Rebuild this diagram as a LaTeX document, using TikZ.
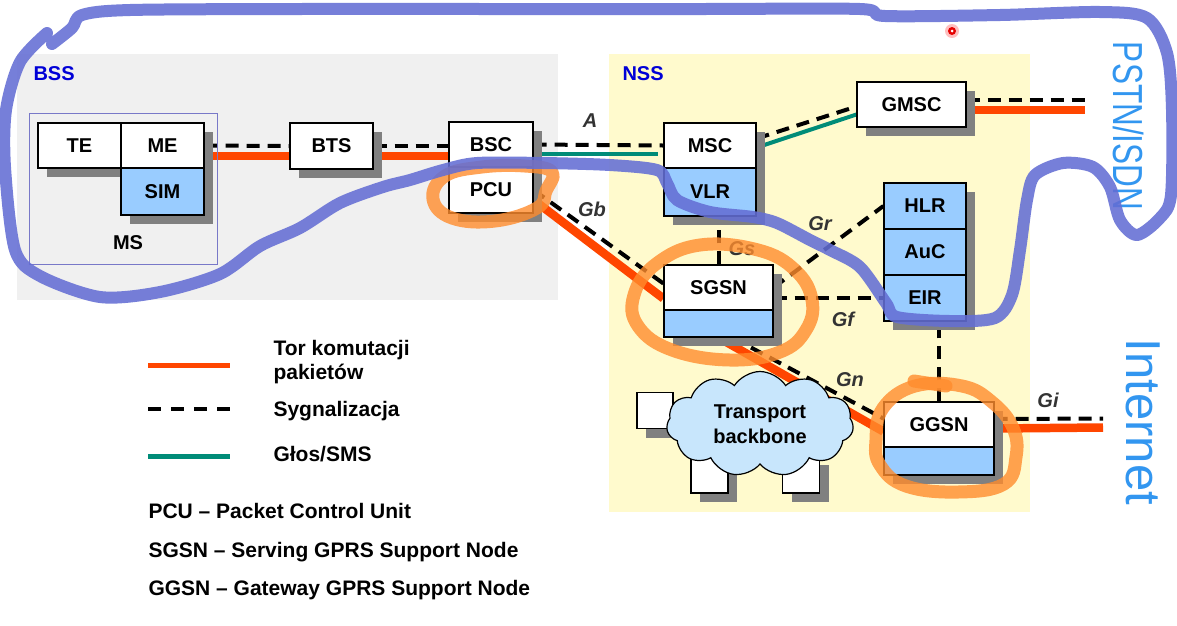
\documentclass[tikz,border=0pt]{standalone}
\usepackage{fontspec}
\setmainfont{Liberation Sans}
\usetikzlibrary{calc,shapes.symbols,shadows}
\pgfdeclarelayer{back}
\pgfdeclarelayer{lines}
\pgfdeclarelayer{marker}
\pgfsetlayers{back,lines,main,marker}
\definecolor{bssgray}{RGB}{240,240,240}
\definecolor{nssyellow}{RGB}{255,250,205}
\definecolor{simblue}{RGB}{153,204,255}
\definecolor{pktorange}{RGB}{255,70,0}
\definecolor{voiceteal}{RGB}{0,140,120}
\definecolor{areablue}{RGB}{0,0,215}
\definecolor{extblue}{RGB}{50,150,240}
\definecolor{msframe}{RGB}{120,120,200}
\definecolor{shadowgray}{RGB}{128,128,128}
\definecolor{cloudblue}{RGB}{200,230,252}
\definecolor{penblue}{RGB}{100,110,212}
\definecolor{penorange}{RGB}{255,140,45}

\begin{document}
\begin{tikzpicture}[x=1pt, y=-1pt,
  box/.style={draw, line width=1.2pt, fill=white, inner sep=0pt,
    font=\bfseries\fontsize{20}{24}\selectfont,
    drop shadow={shadow xshift=9pt, shadow yshift=-9pt, fill=shadowgray, opacity=1}},
  bluebox/.style={box, fill=simblue},
  pkt/.style={draw=pktorange, line width=8.5pt},
  sig/.style={draw=black, line width=4pt, dash pattern=on 13pt off 8pt},
  voice/.style={draw=voiceteal, line width=4pt},
  iface/.style={font=\bfseries\itshape\fontsize{20}{24}\selectfont, text=black!80},
  area/.style={font=\bfseries\fontsize{20}{24}\selectfont, text=areablue, anchor=base west},
  legend/.style={font=\bfseries\fontsize{21}{25}\selectfont, anchor=base west},
  ext/.style={font=\fontsize{42}{48}\selectfont, text=extblue, rotate=-90, anchor=base},
  penb/.style={draw=penblue, opacity=0.88, line width=12pt, line cap=round, line join=round},
  peno/.style={draw=penorange, opacity=0.8, line width=13pt, line cap=round, line join=round}
]
\useasboundingbox (0,0) rectangle (1177,625);
\begin{pgfonlayer}{back}
  \fill[white] (0,0) rectangle (1177,625);
  \fill[bssgray] (17,54) rectangle (558,300);
  \fill[nssyellow] (609,54) rectangle (1030,512);
\end{pgfonlayer}

\node[area] (bss) at (30,80) {BSS};
\node[area] (nss) at (619,80) {NSS};
\draw[msframe, line width=1pt] (29,113) rectangle (217,264);
\node[font=\bfseries\fontsize{20}{24}\selectfont] (ms) at (128,243) {MS};

\node[box, minimum width=83pt, minimum height=45pt] (te) at (79.5,145.5) {TE};
\node[box, minimum width=83pt, minimum height=45pt] (me) at (162.5,145.5) {ME};
\node[bluebox, minimum width=83pt, minimum height=47pt] (sim) at (162.5,191.5) {SIM};
\node[box, minimum width=83pt, minimum height=46pt] (bts) at (331.5,146) {BTS};
\node[box, minimum width=84pt, minimum height=45pt] (bsc) at (491,144.5) {BSC};
\node[box, minimum width=84pt, minimum height=46pt] (pcu) at (491,190) {PCU};
\node[box, minimum width=92pt, minimum height=45pt] (msc) at (710,145.5) {MSC};
\node[bluebox, minimum width=92pt, minimum height=48pt] (vlr) at (710,192) {VLR};
\node[box, minimum width=109pt, minimum height=45pt] (gmsc) at (911.5,104.5) {GMSC};
\node[bluebox, minimum width=82pt, minimum height=46pt] (hlr) at (925,206) {HLR};
\node[bluebox, minimum width=82pt, minimum height=46pt] (auc) at (925,252) {AuC};
\node[bluebox, minimum width=82pt, minimum height=46pt] (eir) at (925,298) {EIR};
\node[box, minimum width=109pt, minimum height=45pt] (sgsn) at (718.5,287.5) {SGSN};
\node[bluebox, minimum width=109pt, minimum height=27pt] (sgsnb) at (718.5,323.5) {};
\node[box, minimum width=110pt, minimum height=45pt] (ggsn) at (939,424.5) {GGSN};
\node[bluebox, minimum width=110pt, minimum height=28pt] (ggsnb) at (939,461) {};

\node[box, minimum size=36pt] (t1) at (655,410.5) {};
\node[box, minimum size=37pt] (t2) at (709.5,474.5) {};
\node[box, minimum size=37pt] (t3) at (801,474.5) {};
\node[cloud, cloud puffs=11, cloud puff arc=115, aspect=1.8, draw, line width=1.2pt,
  fill=cloudblue, minimum width=187pt, minimum height=105pt, inner sep=0pt, align=center,
  font=\bfseries\fontsize{20}{25}\selectfont] (net) at (760,424) {Transport\\backbone};

\coordinate (pstn) at (1085,105);
\coordinate (inet) at (1103,423.5);

\begin{pgfonlayer}{lines}
  \draw[sig] (me.east) -- (bts.west);
  \draw[pkt] ($(me.east)+(0,10.5)$) -- ($(bts.west)+(0,10)$);
  \draw[sig] (bts.east) -- (bts.east -| bsc.west);
  \draw[pkt] ($(bts.east)+(0,10)$) -- ($(bts.east -| bsc.west)+(0,10)$);
  \draw[sig] (bsc.east) -- (msc.west);
  \draw[voice] ($(bsc.east)+(0,9)$) -- ($(msc.west)+(-5,8)$);
  \draw[sig] ($(msc.east)+(0,-7)$) -- ($(gmsc.west)+(0,2)$);
  \draw[voice] ($(msc.east)+(0,2)$) -- ($(gmsc.west)+(0,10)$);
  \draw[sig] ($(gmsc.east)+(0,-4.5)$) -- ($(pstn)+(0,-5)$);
  \draw[pkt] ($(gmsc.east)+(0,5.5)$) -- ($(pstn)+(0,5)$);
  \draw[sig] (pcu.east) -- ($(sgsn.west)+(0,-4)$);
  \draw[pkt] ($(pcu.east)+(0,10)$) -- ($(sgsn.west)+(0,11)$);
  \draw[sig] (sgsn.north) -- (sgsn.north |- vlr.south);
  \draw[sig] (sgsn.east) -- (hlr.west);
  \draw[sig] (eir.west -| sgsn.east) -- (eir.west);
  \draw[sig] (ggsn.north) -- (ggsn.north |- eir.south);
  \draw[pkt] (sgsnb.south) -- ($(ggsn.west)+(0,7)$);
  \draw[sig] ($(sgsnb.south)+(14,0)$) -- ($(ggsn.west)+(0,-6)$);
  \draw[sig] ($(ggsn.east)+(0,-5.5)$) -- ($(inet)+(0,-5)$);
  \draw[pkt] ($(ggsn.east)+(0,4)$) -- ($(inet)+(0,4)$);
\end{pgfonlayer}

\node[iface] (a) at (590,121) {A};
\node[iface] (gb) at (592,209) {Gb};
\node[iface] (gs) at (742,249) {Gs};
\node[iface] (gr) at (820,224) {Gr};
\node[iface] (gf) at (843,319) {Gf};
\node[iface] (gn) at (850,380) {Gn};
\node[iface] (gi) at (1048,400) {Gi};

\node[ext] (pstnlbl) at (1113,126) {\scalebox{0.75}[1]{PSTN/ISDN}};
\node[ext, font=\fontsize{49}{56}\selectfont] (inetlbl) at (1126,422) {Internet};

\draw[pktorange, line width=5pt] (148,365) -- (230,365);
\draw[sig, dash pattern=on 13pt off 10pt] (148,409) -- (230,409);
\draw[voiceteal, line width=5pt] (148,456) -- (230,456);
\node[legend] (ltor) at (270,355) {Tor komutacji};
\node[legend] (lpak) at (270,379) {pakietów};
\node[legend] (lsyg) at (270,416) {Sygnalizacja};
\node[legend] (lglos) at (270,461) {Głos/SMS};
\node[legend] (dpcu) at (145,518) {PCU – Packet Control Unit};
\node[legend] (dsgsn) at (145,557) {SGSN – Serving GPRS Support Node};
\node[legend] (dggsn) at (145,595) {GGSN – Gateway GPRS Support Node};

\begin{pgfonlayer}{marker}
  \fill[red, opacity=0.25] (952,31) circle (7pt);
  \fill[red!90!black] (952,31) circle (4pt);
  \fill[white] (952,31) circle (1.5pt);
  \draw[peno] plot[smooth cycle, tension=0.7] coordinates {(445,176) (482,167) (525,166) (552,172) (546,191) (537,208) (495,221) (452,218) (433,199)};
  \draw[peno] plot[smooth cycle, tension=0.7] coordinates {(700,245) (758,250) (795,270) (812,300) (806,330) (780,352) (730,360) (672,350) (638,326) (634,295) (656,264)};
  \draw[peno] plot[smooth cycle, tension=0.7] coordinates {(915,386) (962,386) (992,402) (1013,428) (1016,457) (1004,484) (958,492) (906,486) (880,465) (876,440) (883,408)};
  \draw[peno] (914,381) -- (946,386);
  \draw[penb] plot[smooth, tension=0.5] coordinates {(52,44) (72,28) (82,15) (130,10) (300,9) (500,9) (700,9) (860,9) (885,16) (1000,15) (1100,12) (1147,18) (1167,53) (1172,110) (1171,195) (1160,218) (1137,235) (1120,220) (1110,187) (1093,167) (1063,163) (1035,175) (1027,200) (1020,250) (1012,295) (995,318) (950,321) (897,317) (886,303) (860,267) (830,250) (810,240) (777,223) (753,217) (710,212) (677,200) (667,183) (657,170) (610,165) (543,163) (477,163) (443,170) (410,180) (383,187) (340,203) (300,228) (260,246) (220,274) (160,292) (100,297) (40,276) (15,250) (5,167) (6,110) (20,62) (47,33)};
\end{pgfonlayer}
\end{tikzpicture}
\end{document}
